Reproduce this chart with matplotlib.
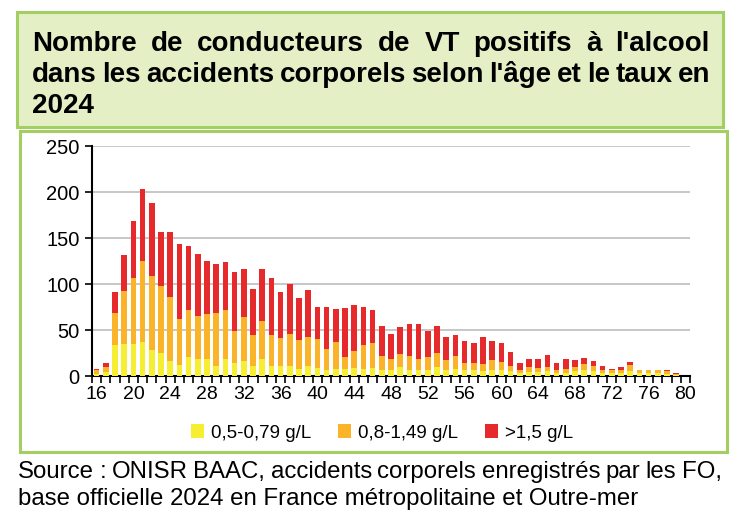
import matplotlib
matplotlib.use("Agg")
import matplotlib.pyplot as plt
from matplotlib.patches import Rectangle, Patch
import numpy as np

ages = list(range(16, 81))
low = [2, 4, 34, 35, 35, 37, 28, 25, 16, 12, 21, 19, 19, 11, 19, 14, 16, 11, 19, 11,
       11, 11, 8, 11, 9, 7, 8, 8, 9, 8, 9, 6, 7, 10, 7, 6, 7, 10, 7, 8,
       6, 6, 5, 7, 6, 5, 3, 4, 4, 5, 3, 3, 5, 6, 5, 3, 3, 3, 5, 3,
       3, 3, 2, 1, 0]
mid = [4, 6, 34, 57, 72, 88, 81, 73, 70, 50, 51, 46, 48, 58, 53, 35, 48, 34, 41, 34,
       30, 35, 31, 31, 31, 22, 29, 13, 18, 26, 27, 16, 11, 14, 15, 13, 14, 15, 10, 14,
       8, 8, 8, 10, 9, 6, 3, 6, 5, 5, 3, 5, 5, 7, 6, 4, 4, 4, 7, 3,
       3, 3, 3, 1, 0]
high = [2, 4, 23, 40, 62, 78, 79, 59, 70, 82, 69, 68, 58, 53, 52, 64, 52, 50, 56, 62,
        50, 54, 46, 52, 35, 46, 36, 53, 50, 41, 36, 32, 28, 29, 35, 37, 28, 29, 25, 23,
        24, 22, 29, 21, 21, 15, 8, 8, 9, 13, 8, 10, 7, 7, 5, 4, 1, 3, 3, 0,
        1, 1, 1, 1, 0]
series_labels = ["0,5-0,79 g/L", "0,8-1,49 g/L", ">1,5 g/L"]
title_lines = ["Nombre de conducteurs de VT positifs à l'alcool",
               "dans les accidents corporels selon l'âge et le taux en",
               "2024"]
source_lines = ["Source : ONISR BAAC, accidents corporels enregistrés par les FO,",
                "base officielle 2024 en France métropolitaine et Outre-mer"]

colors = ["#F6EE33", "#FBB42A", "#E6292A"]
green_border = "#A3CF62"
title_fill = "#E4EFC6"

W, H = 750, 524
fig = plt.figure(figsize=(7.5, 5.24), dpi=100)
fig.patch.set_facecolor("white")
plt.rcParams['font.family'] = ['Liberation Sans', 'DejaVu Sans']

def fx(px):
    return px / W

def fy(py):
    return 1 - py / H

# Title box
fig.patches.append(Rectangle((fx(17), fy(127)), fx(723) - fx(17), fy(12) - fy(127),
                             transform=fig.transFigure, facecolor=title_fill,
                             edgecolor=green_border, linewidth=2.2, zorder=-10))
# Chart box
fig.patches.append(Rectangle((fx(20), fy(452)), fx(727) - fx(20), fy(131) - fy(452),
                             transform=fig.transFigure, facecolor="white",
                             edgecolor=green_border, linewidth=2.2, zorder=-10))

renderer = fig.canvas.get_renderer()

def justified(line, left, right, y, justify=True, **kw):
    words = line.split(" ")
    if not justify or len(words) == 1:
        fig.text(fx(left), fy(y), line, ha="left", va="baseline", **kw)
        return
    texts = [fig.text(0, fy(y), w, ha="left", va="baseline", **kw) for w in words]
    widths = [t.get_window_extent(renderer).width for t in texts]
    gap = (right - left - sum(widths)) / (len(words) - 1)
    x = left
    for t, w in zip(texts, widths):
        t.set_x(fx(x))
        x += w + gap

tkw = dict(fontsize=20, fontweight="bold", color="black")
justified(title_lines[0], 32, 710, 51, **tkw)
justified(title_lines[1], 32, 710, 82, **tkw)
justified(title_lines[2], 32, 710, 113, justify=False, **tkw)

# Axes
ax = fig.add_axes([fx(92), fy(376), fx(690) - fx(92), fy(146) - fy(376)])
ax.set_facecolor("none")
x = np.array(ages)
low_a, mid_a, high_a = np.array(low), np.array(mid), np.array(high)
bw = 0.6
ax.bar(x, low_a, width=bw, color=colors[0], label=series_labels[0], zorder=3)
ax.bar(x, mid_a, width=bw, bottom=low_a, color=colors[1], label=series_labels[1], zorder=3)
ax.bar(x, high_a, width=bw, bottom=low_a + mid_a, color=colors[2], label=series_labels[2], zorder=3)

ax.set_xlim(15.5, 80.5)
ax.set_ylim(0, 250)
ax.set_yticks(range(0, 251, 50))
ax.yaxis.grid(True, color="#BDBDBD", linewidth=1.2, zorder=0)
ax.set_axisbelow(True)
for s in ["top", "right"]:
    ax.spines[s].set_visible(False)
ax.spines["left"].set_linewidth(1.5)
ax.spines["bottom"].set_linewidth(1.5)
ax.set_xticks(range(16, 81, 4))
ax.set_xticks(np.arange(15.5, 81, 1), minor=True)
ax.tick_params(axis="x", which="major", length=0, pad=7, labelsize=14)
ax.tick_params(axis="x", which="minor", length=5, width=1.2, direction="out")
ax.tick_params(axis="y", length=5, width=1.2, direction="out", labelsize=14.5, pad=4)

handles = [Patch(facecolor=c) for c in colors]
fig.legend(handles, series_labels, loc="center", bbox_to_anchor=(fx(382), fy(433)),
           ncol=3, frameon=False, fontsize=13.5, handlelength=0.7, handleheight=0.7,
           handletextpad=0.4, columnspacing=1.4)

skw = dict(fontsize=17.3, color="black")
justified(source_lines[0], 18, 722, 478, **skw)
justified(source_lines[1], 18, 722, 505, justify=False, **skw)

fig.savefig("out.png", dpi=100, facecolor="white")
